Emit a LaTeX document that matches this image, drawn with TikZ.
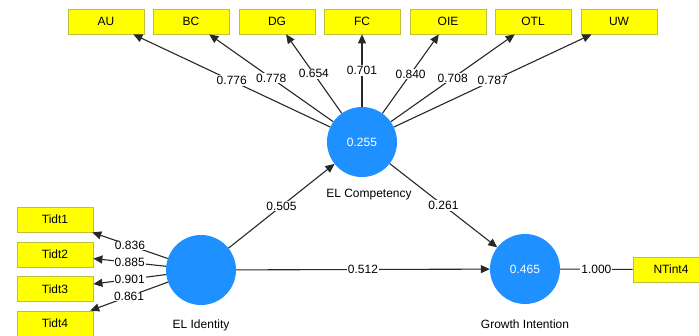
\documentclass[tikz,border=0pt]{standalone}
\usepackage{fontspec}
\setmainfont{Liberation Sans}
\usetikzlibrary{arrows.meta}
\definecolor{lvblue}{RGB}{30,144,255}
\definecolor{indyellow}{RGB}{255,255,0}
\definecolor{indborder}{RGB}{190,190,60}
\definecolor{linegray}{RGB}{40,40,40}
\tikzset{
  indbox/.style={draw=indborder, fill=indyellow, line width=0.8pt, minimum width=76pt, minimum height=25pt, inner sep=0pt, font=\fontsize{12}{14}\selectfont},
  latent/.style={circle, fill=lvblue, minimum size=70pt, inner sep=0pt, text=white, font=\fontsize{12}{14}\selectfont},
  lvlabel/.style={font=\fontsize{12}{14}\selectfont, inner sep=0pt},
  conn/.style={draw=linegray, line width=1.1pt},
  arr/.style={conn, -{Triangle[length=9pt,width=8pt]}},
  wlabel/.style={fill=white, inner sep=1pt, font=\fontsize{12}{14}\selectfont}
}
\begin{document}
\begin{tikzpicture}[x=1pt,y=-1pt]
\useasboundingbox[fill=white] (0,0) rectangle (699,335);
% indicators top
\node[indbox] (AU)  at (106,21.5) {AU};
\node[indbox] (BC)  at (191,21.5) {BC};
\node[indbox] (DG)  at (277,21.5) {DG};
\node[indbox] (FC)  at (362,21.5) {FC};
\node[indbox] (OIE) at (448,21.5) {OIE};
\node[indbox] (OTL) at (533,21.5) {OTL};
\node[indbox] (UW)  at (619,21.5) {UW};
% indicators left
\node[indbox] (T1) at (55,219.5) {Tidt1};
\node[indbox] (T2) at (55,254.5) {Tidt2};
\node[indbox] (T3) at (55,289) {Tidt3};
\node[indbox] (T4) at (55,323.5) {Tidt4};
% indicator right
\node[indbox] (NT) at (671,269.5) {NTint4};
% latent variables
\node[latent] (ELC) at (362,142) {0.255};
\node[latent] (ELI) at (201,270) {};
\node[latent] (GI)  at (525,269) {0.465};
\node[lvlabel] (ELCl) at (369,195) {EL Competency};
\node[lvlabel] (ELIl) at (201,325) {EL Identity};
\node[lvlabel] (GIl)  at (525,324) {Growth Intention};
% outer loadings
\draw[arr] (ELC) -- node[wlabel] {0.776} (AU);
\draw[arr] (ELC) -- node[wlabel] {0.778} (BC);
\draw[arr] (ELC) -- node[wlabel] {0.654} (DG);
\draw[arr] (ELC) -- node[wlabel] {0.701} (FC);
\draw[arr] (ELC) -- node[wlabel] {0.840} (OIE);
\draw[arr] (ELC) -- node[wlabel] {0.708} (OTL);
\draw[arr] (ELC) -- node[wlabel] {0.787} (UW);
\draw[arr] (ELI) -- node[wlabel, inner ysep=0pt] {0.836} (T1);
\draw[arr] (ELI) -- node[wlabel, inner ysep=0pt] {0.885} (T2);
\draw[arr] (ELI) -- node[wlabel, inner ysep=0pt] {0.901} (T3);
\draw[arr] (ELI) -- node[wlabel, inner ysep=0pt] {0.861} (T4);
\draw[conn] (GI) -- node[wlabel] {1.000} (NT);
% path coefficients
\draw[arr] (ELI) -- node[wlabel] {0.505} (ELC);
\draw[arr] (ELC) -- node[wlabel] {0.261} (GI);
\draw[arr] (ELI) -- node[wlabel] {0.512} (GI);
\end{tikzpicture}
\end{document}
